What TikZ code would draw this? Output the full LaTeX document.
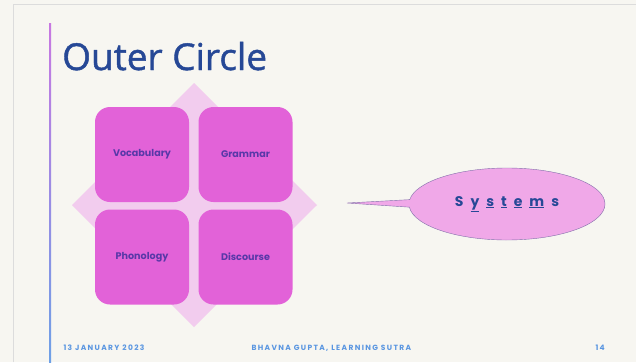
\documentclass[tikz,border=0pt]{standalone}
\usepackage{fontspec}
\setmainfont{Poppins}
\newfontfamily\titlefont[FakeBold=1.2]{Open Sans}
\newfontfamily\footfont[LetterSpace=18]{Poppins}
\usetikzlibrary{shapes.callouts}
\definecolor{paper}{RGB}{247,246,241}
\definecolor{rahmen}{RGB}{220,220,220}
\definecolor{titelblau}{RGB}{38,72,150}
\definecolor{kachel}{RGB}{226,98,216}
\definecolor{raute}{RGB}{242,204,238}
\definecolor{kacheltext}{RGB}{88,56,168}
\definecolor{blase}{RGB}{240,168,232}
\definecolor{blasenrand}{RGB}{130,110,170}
\definecolor{fussblau}{RGB}{90,150,225}
\definecolor{linielila}{RGB}{200,120,225}
\definecolor{linieblau}{RGB}{110,160,230}

\begin{document}
\begin{tikzpicture}[x=1pt, y=-1pt,
    tile/.style={fill=kachel, rounded corners=15pt, minimum width=94pt, minimum height=95pt,
        inner sep=0pt, text=kacheltext, font=\fontsize{9.6}{11}\selectfont\bfseries},
    foot/.style={text=fussblau, font=\footfont\fontsize{7.5}{9}\selectfont\bfseries, anchor=west}]

    % Hintergrund und Rahmen
    \fill[paper] (0,0) rectangle (636,362);
    \useasboundingbox (0,0) rectangle (636,362);
    \draw[rahmen, thin] (13,362) -- (13,4.5) -- (636,4.5);
    \shade[top color=linielila, bottom color=linieblau] (49.2,23) rectangle (51.2,362);

    \node[anchor=base west, text=titelblau, inner sep=0pt, font=\titlefont\fontsize{37}{40}\selectfont] (title) at (62,70) {Outer Circle};

    % Raute hinter den Kacheln
    \fill[raute] (194,83) -- (317,205) -- (194,327) -- (72,205) -- cycle;

    \node[tile] (vocab) at (142,154.5) {Vocabulary};
    \node[tile] (grammar) at (245.5,154.5) {Grammar};
    \node[tile] (phono) at (142,257) {Phonology};
    \node[tile] (discourse) at (245.5,257) {Discourse};

    % Sprechblase
    \coordinate (tip) at (347,203);
    \node[ellipse callout, callout absolute pointer={(tip)}, callout pointer arc=12,
        fill=blase, draw=blasenrand, thin, minimum width=196pt, minimum height=72pt, inner sep=0pt,
        text=titelblau, font=\fontsize{14}{16}\selectfont\bfseries] (bubble) at (507,204)
        {S\hspace{0.5em}\underline{y}\hspace{0.5em}\underline{s}\hspace{0.5em}\underline{t}\hspace{0.5em}\underline{e}\hspace{0.5em}\underline{m}\hspace{0.5em}s};

    % Fusszeile
    \node[foot] (date) at (60,348) {13 JANUARY 2023};
    \node[foot] (author) at (248,348) {BHAVNA GUPTA, LEARNING SUTRA};
    \node[foot] (page) at (592,348) {14};

\end{tikzpicture}
\end{document}
